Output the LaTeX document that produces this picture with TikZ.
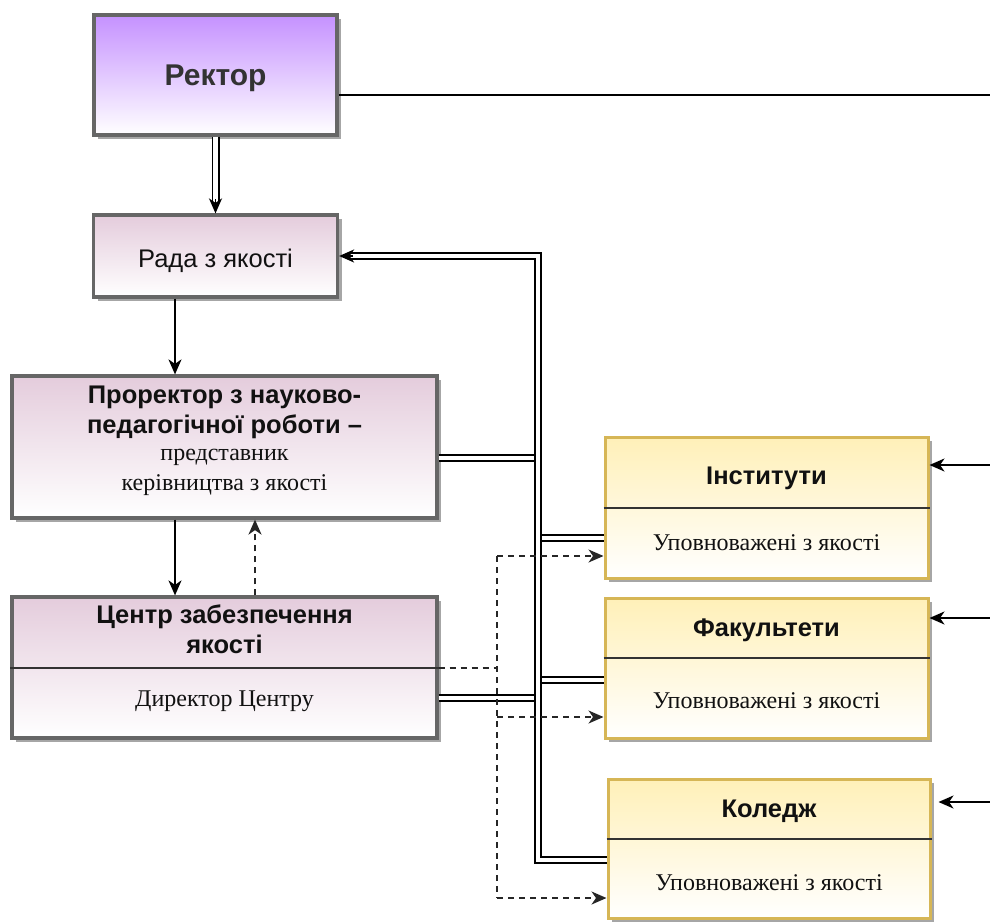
\documentclass[tikz,border=0pt]{standalone}
\usepackage{fontspec}
\setmainfont{Liberation Serif}
\newfontfamily\arialf{Liberation Sans}
\usetikzlibrary{shadows,arrows.meta,calc}
\definecolor{pborder}{HTML}{666666}
\definecolor{ptop}{HTML}{E4CCDC}
\definecolor{rtop}{HTML}{C591FF}
\definecolor{ytop}{HTML}{FFF0B8}
\definecolor{yborder}{HTML}{D6B656}
\definecolor{txt}{HTML}{111111}
\begin{document}
\begin{tikzpicture}[x=1pt,y=1pt,
  shad/.style={drop shadow={shadow xshift=4pt,shadow yshift=-4pt,opacity=0.35,fill=black}},
  pbox/.style={rectangle,draw=pborder,line width=3.2pt,top color=ptop,bottom color=white,shad,inner sep=0pt},
  rbox/.style={pbox,top color=rtop},
  ybox/.style={rectangle,draw=yborder,line width=3pt,top color=ytop,bottom color=white,shad,inner sep=0pt},
  sbold/.style={font=\arialf\bfseries\fontsize{25.5}{30}\selectfont,text=txt,align=center},
  sreg/.style={font=\arialf\fontsize{25.5}{30}\selectfont,text=txt,align=center},
  serif/.style={font=\fontsize{24}{30}\selectfont,text=txt,align=center},
  ln/.style={draw=black,line width=1.9pt},
  arr/.style={ln,-{Stealth[length=15pt,width=13pt,inset=4.5pt]}},
  dbl/.style={draw=black,line width=1.6pt,double=white,double distance=4.8pt},
  dsh/.style={draw=black!85,line width=1.8pt,dash pattern=on 6pt off 5pt},
  darr/.style={dsh,-{Stealth[length=15pt,width=13pt,inset=4.5pt]}},
  divl/.style={draw=black!80,line width=2pt}
]
\useasboundingbox (0,0) rectangle (990,-921);

% boxes
\node[rbox,minimum width=243pt,minimum height=120pt] (rek) at (215.5,-75) {};
\node[font=\arialf\bfseries\fontsize{30}{34}\selectfont,text=black!80] (rekt) at (215.5,-78) {Ректор};
\node[pbox,minimum width=244pt,minimum height=82pt] (rada) at (215.5,-256) {};
\node[sreg] (radat) at (215.5,-261) {Рада з якості};

\node[pbox,minimum width=425pt,minimum height=142pt] (pro) at (224.5,-447) {};
\node[sbold] (prot1) at (224.5,-412) {Проректор з науково-\\педагогічної роботи –};
\node[serif] (prot2) at (224.5,-472) {представник\\керівництва з якості};

\node[pbox,minimum width=425pt,minimum height=141pt] (cen) at (224.5,-667.5) {};
\node[sbold] (cent1) at (224.5,-629) {Центр забезпечення\\якості};
\node[serif] (cent2) at (224.5,-701) {Директор Центру};

\node[ybox,minimum width=323pt,minimum height=141pt] (inst) at (766.5,-507.5) {};
\node[sbold] (instt) at (766.5,-478) {Інститути};
\node[serif] (insts) at (766.5,-543) {Уповноважені з якості};

\node[ybox,minimum width=323pt,minimum height=140pt] (fac) at (766.5,-668) {};
\node[sbold] (fact) at (766.5,-630) {Факультети};
\node[serif] (facs) at (766.5,-701) {Уповноважені з якості};

\node[ybox,minimum width=322pt,minimum height=139pt] (col) at (769,-848.5) {};
\node[sbold] (colt) at (769,-811) {Коледж};
\node[serif] (cols) at (769,-883) {Уповноважені з якості};

% dividers
\coordinate (dvc) at (0,-668);
\coordinate (dvi) at (0,-508);
\coordinate (dvf) at (0,-658);
\coordinate (dvk) at (0,-839);
\draw[divl] (cen.west |- dvc) -- (cen.east |- dvc);
\draw[divl] (inst.west |- dvi) -- (inst.east |- dvi);
\draw[divl] (fac.west |- dvf) -- (fac.east |- dvf);
\draw[divl] (col.west |- dvk) -- (col.east |- dvk);

% rector links
\draw[dbl,shorten >=12pt] (rek.south) -- (rada.north);
\draw[arr] ($(rada.north)+(0,14)$) -- (rada.north);
\coordinate (redge) at (990,-95);
\draw[ln] (rek.east |- redge) -- (redge);
\coordinate (ei) at (990,-465);
\coordinate (ef) at (990,-618);
\coordinate (ec) at (990,-802);
\draw[arr] (ei) -- (inst.east |- ei);
\draw[arr] (ef) -- (fac.east |- ef);
\draw[arr,shorten >=7pt] (ec) -- (col.east |- ec);

% vertical chain
\coordinate (c1) at (175,0);
\coordinate (c2) at (255,0);
\draw[arr] (rada.south -| c1) -- (pro.north -| c1);
\draw[arr] (pro.south -| c1) -- (cen.north -| c1);
\draw[darr] (cen.north -| c2) -- (pro.south -| c2);

% bus branches
\coordinate (bp) at (538,-458);
\coordinate (bi) at (538,-538);
\coordinate (bf) at (538,-680);
\coordinate (bc) at (538,-698);
\draw[dbl] (pro.east |- bp) -- (bp);
\draw[dbl] (bi) -- (inst.west |- bi);
\draw[dbl] (bf) -- (fac.west |- bf);
\draw[dbl] (cen.east |- bc) -- (bc);
% bus
\coordinate (btop) at (538,-256);
\coordinate (bbot) at (538,-860);
\draw[dbl,shorten <=12pt] (rada.east) -- (btop) -- (bbot) -- (col.west |- bbot);
\draw[arr] ($(rada.east)+(14,0)$) -- (rada.east);

% dashed links
\coordinate (cd) at (497,-668);
\coordinate (dtop) at (497,-556);
\coordinate (dmid) at (497,-717);
\coordinate (dbot) at (497,-898);
\draw[dsh] (cen.east |- cd) -- (cd);
\draw[dsh] (dtop) -- (dbot);
\draw[darr] (dtop) -- (inst.west |- dtop);
\draw[darr] (dmid) -- (fac.west |- dmid);
\draw[darr] (dbot) -- (col.west |- dbot);
\end{tikzpicture}
\end{document}
